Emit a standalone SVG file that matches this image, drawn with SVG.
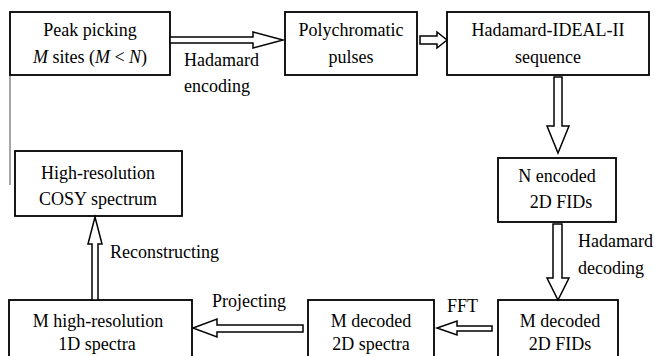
<svg xmlns="http://www.w3.org/2000/svg" width="655" height="356" viewBox="0 0 655 356">
<style>
.box{fill:#fff;stroke:#000;stroke-width:1.8}
.arr{fill:#fff;stroke:#000;stroke-width:1.5;stroke-linejoin:miter}
.t{font-family:'Liberation Serif','DejaVu Serif',serif;font-size:18px;fill:#000}
.c{text-anchor:middle}
</style>
<rect width="655" height="356" fill="#fff"/>
<line x1="10" y1="75" x2="10" y2="185" stroke="#888" stroke-width="1.5"/>
<g id="peak" class="t">
<rect class="box" x="10" y="12" width="160" height="63"/>
<text class="c" x="90" y="36">Peak picking</text>
<text class="c" x="90" y="63"><tspan font-style="italic">M</tspan> sites (<tspan font-style="italic">M</tspan> &lt; <tspan font-style="italic">N</tspan>)</text>
</g>
<g id="poly" class="t">
<rect class="box" x="285" y="12" width="132" height="63"/>
<text class="c" x="351" y="36">Polychromatic</text>
<text class="c" x="351" y="63">pulses</text>
</g>
<g id="ideal" class="t">
<rect class="box" x="447" y="12" width="202" height="63"/>
<text class="c" x="548" y="36">Hadamard-IDEAL-II</text>
<text class="c" x="548" y="63">sequence</text>
</g>
<g id="nenc" class="t">
<rect class="box" x="498" y="158" width="118" height="64"/>
<text class="c" x="557" y="182">N encoded</text>
<text class="c" x="561" y="208">2D FIDs</text>
</g>
<g id="cosy" class="t">
<rect class="box" x="15" y="151" width="167" height="65"/>
<text class="c" x="98" y="179">High-resolution</text>
<text class="c" x="98" y="205">COSY spectrum</text>
</g>
<g id="mhigh" class="t">
<rect class="box" x="9" y="300" width="183" height="60"/>
<text class="c" x="98" y="327">M high-resolution</text>
<text class="c" x="97" y="350">1D spectra</text>
</g>
<g id="mspec" class="t">
<rect class="box" x="308" y="300" width="126" height="60"/>
<text class="c" x="371" y="327">M decoded</text>
<text class="c" x="371" y="350">2D spectra</text>
</g>
<g id="mfid" class="t">
<rect class="box" x="498" y="300" width="120" height="60"/>
<text class="c" x="560" y="327">M decoded</text>
<text class="c" x="560" y="350">2D FIDs</text>
</g>
<g id="connectors" class="t">
<polygon class="arr" points="170,37 253,37 253,32 283,40 253,48 253,43 170,43"/>
<polygon class="arr" points="420,36 437,36 437,32 447,40 437,48 437,44 420,44"/>
<polygon class="arr" points="554,77 562,77 562,126 569,126 558,153 547,126 554,126"/>
<polygon class="arr" points="553,224 562,224 562,278 569,278 558,300 547,278 553,278"/>
<polygon class="arr" points="492,326 457,326 457,321 437,328 457,335 457,331 492,331"/>
<polygon class="arr" points="303,325 217,325 217,319 193,328 217,337 217,332 303,332"/>
<polygon class="arr" points="92,300 92,244 88,244 95,217 102,244 98,244 98,300"/>
<text x="184" y="66">Hadamard</text>
<text x="184" y="92">encoding</text>
<text x="578" y="247">Hadamard</text>
<text x="578" y="274">decoding</text>
<text x="447" y="312">FFT</text>
<text x="212" y="307">Projecting</text>
<text x="110" y="258">Reconstructing</text>
</g>
</svg>
